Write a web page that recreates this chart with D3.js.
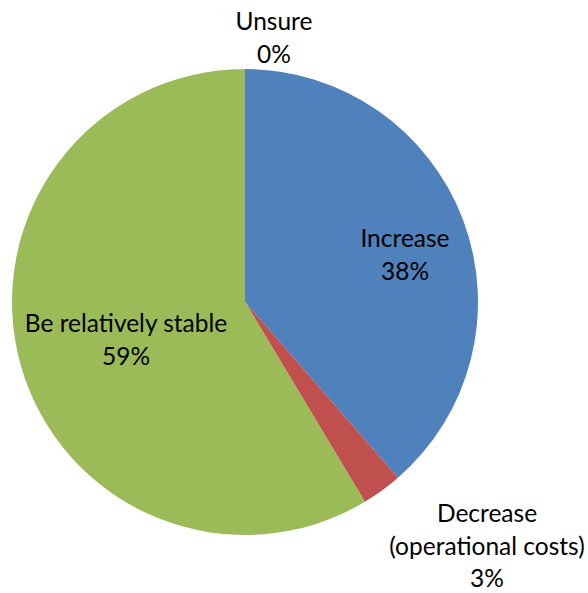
<!DOCTYPE html>
<html>
<head>
  <meta charset="utf-8" />
  <script src="https://d3js.org/d3.v7.min.js"></script>
  <style>
    body { margin: 0; background: #fff; }
    text { font-family: Lato, "Open Sans", sans-serif; font-size: 24.5px; fill: #000; }
  </style>
</head>
<body>
  <script type="text/javascript">
    // - - - - - DATA - - - - - //
    var categories = ["Increase", "Decrease (operational costs)", "Be relatively stable", "Unsure"];
    var values = [38.6, 2.8, 58.6, 0];
    var pctLabels = ["38%", "3%", "59%", "0%"];
    var labelLines = [["Increase"], ["Decrease", "(operational costs)"], ["Be relatively stable"], ["Unsure"]];
    var colors = ["#4f81bd", "#c0504d", "#9bbb59", "#8064a2"];

    // - - - - - LAYOUT - - - - - //
    var width = 588, height = 593,
        cx = 245, cy = 302, radius = 233;
    // label anchor (centre x, first baseline) relative to the pie centre
    var labelPos = [[160, -55], [242, 220], [-119, 30], [29, -272]];
    var lineH = 32.5;

    var svg = d3.select("body").append("svg")
        .attr("width", width)
        .attr("height", height);

    var g = svg.append("g")
        .attr("transform", "translate(" + cx + "," + cy + ")");

    var pie = d3.pie().sort(null).value(function(d) { return d; });
    var arc = d3.arc().innerRadius(0).outerRadius(radius);

    var color = d3.scaleOrdinal().domain(categories).range(colors);

    g.selectAll(".slice")
        .data(pie(values))
      .enter().append("path")
        .attr("class", "slice")
        .attr("d", arc)
        .style("fill", function(d, i) { return color(categories[i]); });

    var labels = g.selectAll(".label")
        .data(categories)
      .enter().append("text")
        .attr("class", "label")
        .attr("text-anchor", "middle")
        .attr("transform", function(d, i) {
          return "translate(" + labelPos[i][0] + "," + labelPos[i][1] + ")";
        });

    labels.each(function(d, i) {
      var t = d3.select(this);
      var lines = labelLines[i].concat([pctLabels[i]]);
      lines.forEach(function(s, k) {
        t.append("tspan").attr("x", 0).attr("y", k * lineH).text(s);
      });
    });
  </script>
</body>
</html>
